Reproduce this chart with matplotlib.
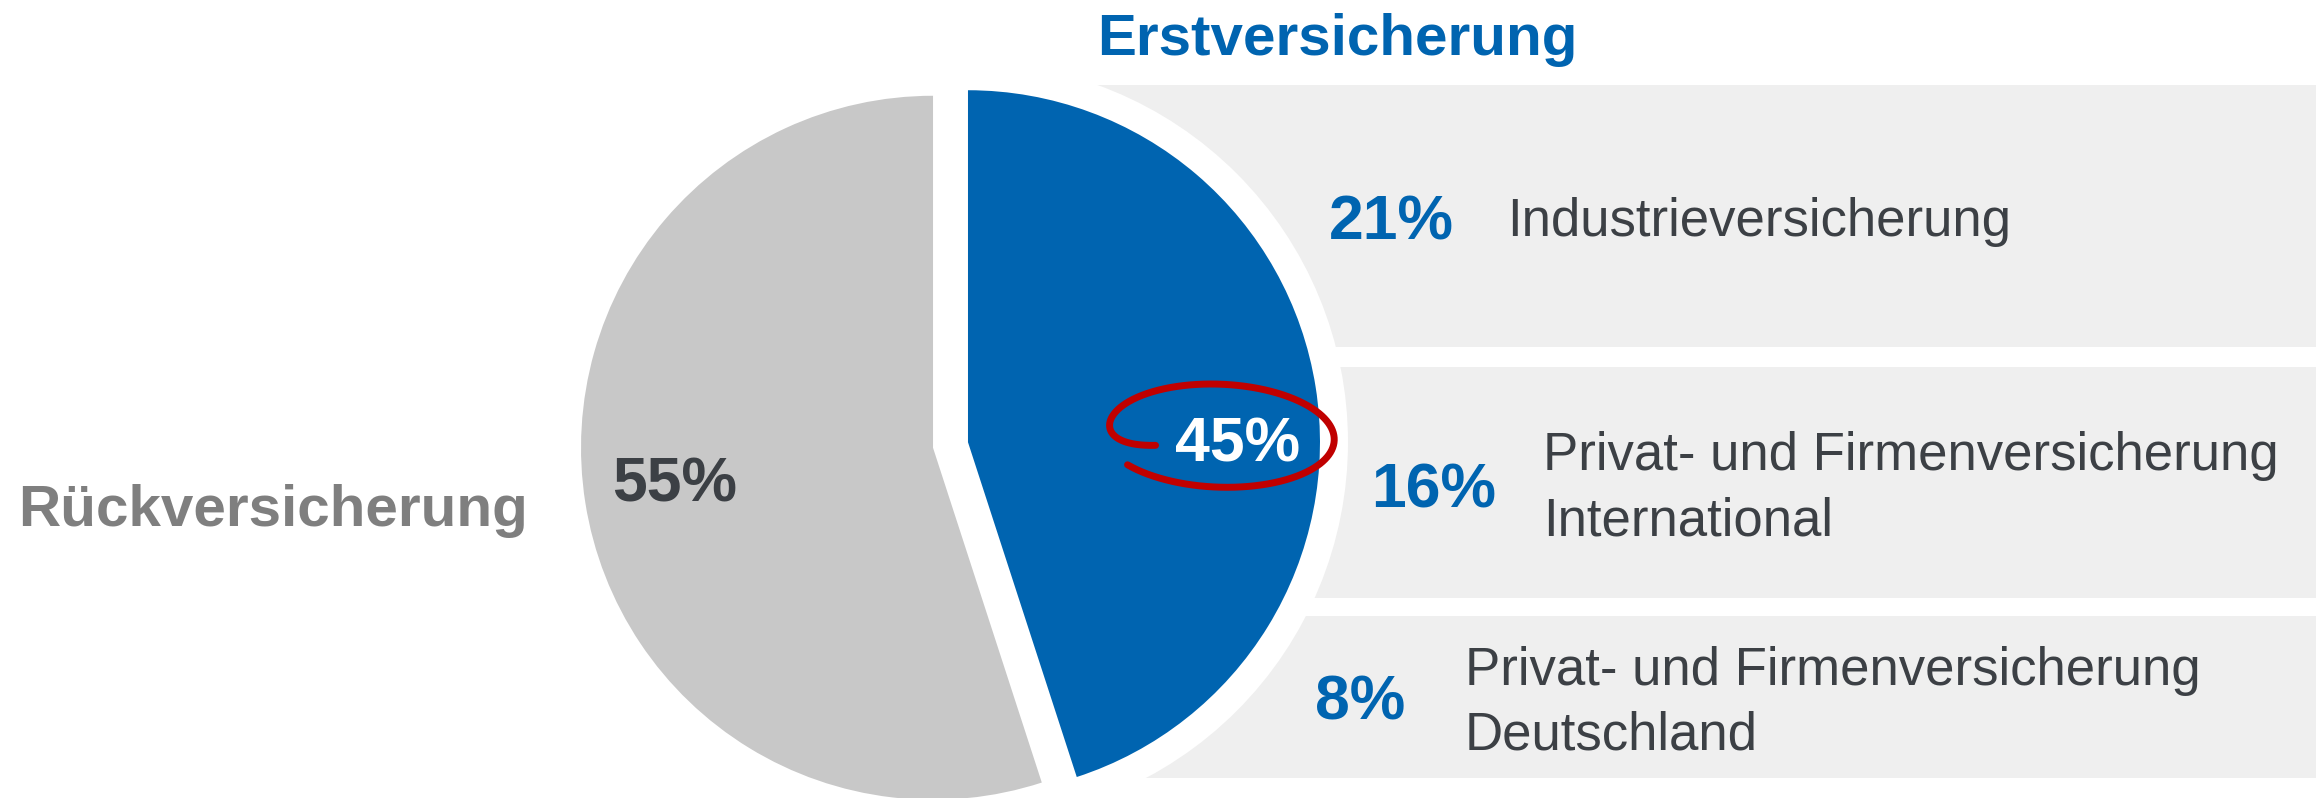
import numpy as np
import matplotlib
matplotlib.use("Agg")
import matplotlib.pyplot as plt
from matplotlib.patches import Rectangle, Circle

# ---------------- data ----------------
segments = ["Erstversicherung", "Rückversicherung"]
segment_shares = [45, 55]
sub_pcts = [21, 16, 8]
sub_labels = [
    "Industrieversicherung",
    "Privat- und Firmenversicherung\nInternational",
    "Privat- und Firmenversicherung\nDeutschland",
]

# ---------------- style / layout ----------------
W, H = 2316, 798
BLUE = "#0064B0"
GRAY = "#C8C8C8"
BOX = "#EFEFEF"
DARK = "#3C4045"
MIDGRAY = "#7F7F7F"
RED = "#C00000"

plt.rcParams['font.family'] = ['Liberation Sans', 'DejaVu Sans']

fig = plt.figure(figsize=(W / 100, H / 100), dpi=100)
ax = fig.add_axes([0, 0, 1, 1])


def Y(y):
    return H - y


R = 352
wedges, _ = ax.pie(segment_shares, colors=[BLUE, GRAY], startangle=90,
                   counterclock=False, radius=R, center=(950.5, Y(445)),
                   explode=[17.7, 17.7], wedgeprops=dict(linewidth=0))
for w in wedges:
    w.set_zorder(2)

ax.set_xlim(0, W)
ax.set_ylim(0, H)
ax.set_aspect('equal')
ax.axis('off')

# background bands on the right
bands = [(85, 347), (367, 598), (616, 778)]
for y0, y1 in bands:
    ax.add_patch(Rectangle((1000, Y(y1)), W - 1000, y1 - y0, facecolor=BOX,
                           lw=0, zorder=0))

# white halo around the exploded blue slice
ax.add_patch(Circle(wedges[0].center, wedges[0].r + 28, facecolor='white',
                    lw=0, zorder=1))

# headers
ax.text(1097, Y(55), segments[0], fontsize=42, fontweight='bold', color=BLUE,
        ha='left', va='baseline', zorder=4)
ax.text(18, Y(526), segments[1], fontsize=42, fontweight='bold', color=MIDGRAY,
        ha='left', va='baseline', zorder=4)

# pie percentages
ax.text(1175, Y(462), f"{segment_shares[0]}%", fontsize=45, fontweight='bold',
        color='white', ha='left', va='baseline', zorder=4)
ax.text(612, Y(502), f"{segment_shares[1]}%", fontsize=45, fontweight='bold',
        color=DARK, ha='left', va='baseline', zorder=4)

# sub-segment rows
pct_x = [1329, 1371, 1315]
pct_base = [240, 508, 720]
lab_x = [1507, 1543, 1465]
lab_base = [236, 470, 685]
pitch = 65
for p, lab, px, pb, lx, lb in zip(sub_pcts, sub_labels, pct_x, pct_base, lab_x, lab_base):
    ax.text(px, Y(pb), f"{p}%", fontsize=45, fontweight='bold', color=BLUE,
            ha='left', va='baseline', zorder=4)
    for i, line in enumerate(lab.split("\n")):
        ax.text(lx, Y(lb + i * pitch), line, fontsize=38, color=DARK,
                ha='left', va='baseline', zorder=4)

# hand-drawn red loop around 45%
cx, cy = 1219, Y(435)
a, b = 112, 50
t0, t1 = np.radians(205), np.radians(-140)
t = np.linspace(t0, t1, 500)
prog = (t0 - t) / (t0 - t1)
s = 1 - 0.38 * np.exp(-prog / 0.03) + 0.05 * prog
dx = a * s * np.cos(t)
dy = b * s * np.sin(t)
phi = np.radians(-2.5)
xr = cx + dx * np.cos(phi) - dy * np.sin(phi)
yr = cy + dx * np.sin(phi) + dy * np.cos(phi)
ax.plot(xr, yr, color=RED, lw=5, solid_capstyle='round', zorder=5)

fig.savefig("out.png", dpi=100)
